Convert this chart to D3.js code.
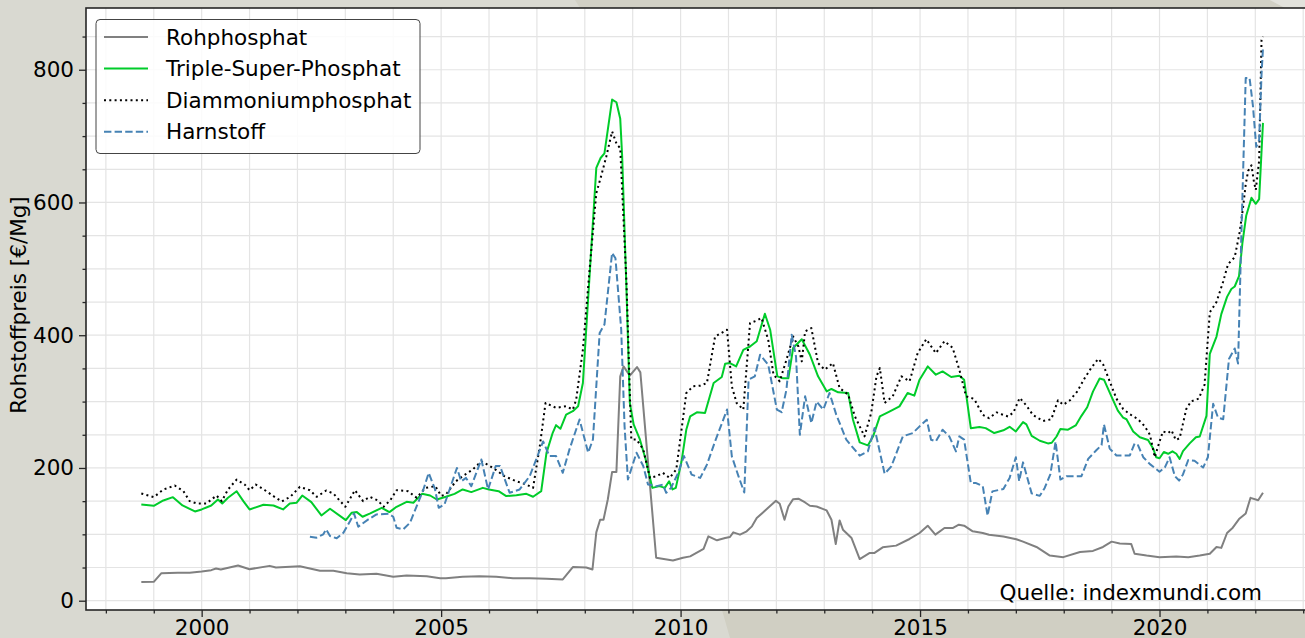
<!DOCTYPE html>
<html lang="de">
<head>
<meta charset="UTF-8">
<title>Rohstoffpreise Dünger</title>
<script src="https://d3js.org/d3.v7.min.js"></script>
<style>
    body { margin: 0; overflow: hidden; background: #d9d9d1; }
    svg { display: block; font-family: "DejaVu Sans", sans-serif; }
    text { fill: #000; }
</style>
</head>
<body>
<svg id="chart" width="1305" height="638"></svg>
<script>
// Werte [Jahr, €/Mg]
const rohphosphat = [[1998.74,28],[1999.0,28.5],[1999.16,41.5],[1999.5,42],[1999.75,42],[2000.0,44],[2000.2,46],[2000.3,48.5],[2000.4,47],[2000.76,53],[2001.0,47.5],[2001.42,52.5],[2001.55,50],[2002.05,52],[2002.47,45],[2002.75,45],[2003.03,41.5],[2003.3,39.5],[2003.65,40.5],[2004.0,36],[2004.28,38],[2004.7,37],[2004.98,34],[2005.1,34],[2005.45,36],[2005.8,37],[2006.15,36],[2006.5,34],[2006.85,34],[2007.2,33],[2007.54,32],[2007.75,50.6],[2008.03,50],[2008.16,47],[2008.24,103],[2008.32,122],[2008.39,122],[2008.48,152.5],[2008.57,194],[2008.66,194],[2008.74,338],[2008.81,353],[2008.94,339],[2009.09,352],[2009.16,344],[2009.49,64.7],[2009.84,60.7],[2010.05,64.7],[2010.2,66.8],[2010.48,78],[2010.58,97],[2010.76,91],[2010.93,94.4],[2011.03,96],[2011.1,103],[2011.24,99.5],[2011.38,104.5],[2011.49,112],[2011.59,124.5],[2011.8,138],[2011.99,150.7],[2012.07,146],[2012.17,122],[2012.25,142],[2012.35,153],[2012.46,153.7],[2012.6,148],[2012.7,143],[2012.84,142],[2012.98,138],[2013.05,136],[2013.15,122],[2013.24,85.4],[2013.32,121],[2013.39,107],[2013.57,94.4],[2013.74,62.8],[2013.95,72],[2014.05,72],[2014.22,80.4],[2014.5,83],[2014.78,93],[2014.99,102],[2015.16,113],[2015.32,99.5],[2015.51,109.5],[2015.68,109.5],[2015.81,114.5],[2015.92,113],[2016.1,104.5],[2016.31,102],[2016.44,99.5],[2016.74,96.7],[2017.01,92.6],[2017.15,89],[2017.43,81],[2017.71,68],[2017.99,65.6],[2018.34,73.3],[2018.61,75],[2018.82,81],[2019.0,89],[2019.17,86.3],[2019.41,85.3],[2019.48,70.8],[2019.73,68],[2020.0,65.6],[2020.35,66.6],[2020.6,65.6],[2020.84,68],[2021.05,70.7],[2021.19,81],[2021.29,79.6],[2021.41,102],[2021.53,110],[2021.66,123],[2021.8,131.5],[2021.9,155],[2022.06,151.3],[2022.16,162.7]];

const tripleSuperPhosphat = [[1998.74,145],[1999.0,143],[1999.2,151],[1999.4,156],[1999.6,143.5],[1999.86,134.5],[2000.0,137.5],[2000.2,143.5],[2000.34,152.5],[2000.43,146.5],[2000.55,155],[2000.73,165],[2000.87,150],[2001.0,137.5],[2001.29,144.5],[2001.5,143.5],[2001.7,137.5],[2001.84,146.5],[2001.98,147.5],[2002.1,158.5],[2002.29,148.5],[2002.5,128.5],[2002.68,138.5],[2003.01,121.5],[2003.13,132.5],[2003.24,133.5],[2003.36,126.5],[2003.52,131.5],[2003.76,140],[2003.92,133.5],[2004.07,141.5],[2004.28,149],[2004.42,147.5],[2004.6,161],[2004.77,158.5],[2004.91,152.5],[2005.1,156.6],[2005.28,161],[2005.45,167.6],[2005.63,163.6],[2005.87,170],[2006.0,167.6],[2006.2,165],[2006.36,157.6],[2006.57,159],[2006.78,161],[2006.92,156.6],[2007.09,165],[2007.2,222.8],[2007.33,253],[2007.4,264.5],[2007.49,259],[2007.61,280.5],[2007.75,285.6],[2007.86,293],[2007.96,328],[2008.24,652],[2008.33,667],[2008.41,674],[2008.57,755],[2008.66,751],[2008.74,726],[2008.78,669.6],[2008.87,469],[2008.94,298],[2009.02,265.5],[2009.15,243],[2009.27,213],[2009.41,170],[2009.56,172.6],[2009.67,170],[2009.76,180],[2009.83,167.6],[2009.9,170],[2010.02,210],[2010.12,258],[2010.2,277.7],[2010.34,283.8],[2010.51,282.8],[2010.69,328],[2010.86,337],[2010.93,357],[2011.03,358],[2011.16,353],[2011.31,378],[2011.45,383],[2011.59,391],[2011.76,432.4],[2011.87,408.3],[2012.02,338],[2012.14,335],[2012.25,335],[2012.35,380.7],[2012.53,394],[2012.7,370.6],[2012.87,338],[2013.05,315.4],[2013.15,319],[2013.29,314],[2013.5,313],[2013.6,272.7],[2013.74,238.6],[2013.91,234],[2014.02,247.6],[2014.16,277.7],[2014.36,285],[2014.57,292.8],[2014.74,313],[2014.88,309],[2014.99,333],[2015.16,353],[2015.33,340.5],[2015.47,345.5],[2015.65,337],[2015.82,339],[2015.92,333],[2016.06,260],[2016.24,261.7],[2016.37,260],[2016.55,252.6],[2016.74,256.7],[2016.87,262],[2017.0,255],[2017.15,269],[2017.22,265.6],[2017.33,248.4],[2017.5,241],[2017.67,237],[2017.75,238],[2017.85,247.4],[2017.93,258.8],[2018.09,257.7],[2018.25,264],[2018.37,278.5],[2018.49,291.5],[2018.61,315],[2018.75,334.7],[2018.84,333],[2019.0,307],[2019.13,286.4],[2019.24,276],[2019.31,273.4],[2019.45,255],[2019.59,246.3],[2019.76,242.2],[2019.87,229],[2019.93,216.2],[2020.0,214.6],[2020.09,224],[2020.18,221.4],[2020.27,225],[2020.35,221.4],[2020.42,213.6],[2020.49,225.5],[2020.63,237],[2020.76,246.3],[2020.84,247.4],[2020.98,278.5],[2021.05,372],[2021.19,398],[2021.29,431.8],[2021.41,457.8],[2021.5,469.7],[2021.57,473.4],[2021.66,489],[2021.73,538.3],[2021.81,580],[2021.92,607],[2022.01,598],[2022.08,605],[2022.16,720]];

const diammoniumphosphat = [[1998.74,161.5],[1999.0,156],[1999.2,167.5],[1999.44,173.5],[1999.62,165],[1999.75,150],[1999.9,146.5],[2000.1,146.5],[2000.31,158.5],[2000.42,150],[2000.55,167.5],[2000.73,182.5],[2000.9,175],[2001.0,166.5],[2001.13,175],[2001.32,166.5],[2001.5,157.5],[2001.67,149.5],[2001.85,156.5],[2002.05,171.5],[2002.26,166.5],[2002.4,156.5],[2002.6,166],[2002.75,161.5],[2003.0,141.5],[2003.2,166.5],[2003.37,150],[2003.51,156.5],[2003.68,151],[2003.8,141.5],[2003.94,151.5],[2004.07,166.5],[2004.31,165],[2004.49,155],[2004.67,170],[2004.88,172.5],[2005.0,158],[2005.1,160],[2005.31,180],[2005.45,187.7],[2005.66,197.7],[2005.84,210],[2006.0,203.7],[2006.15,196.7],[2006.32,187.7],[2006.57,180],[2006.78,175],[2006.92,170],[2007.06,233],[2007.18,298],[2007.4,290.6],[2007.61,293],[2007.75,288],[2007.82,303],[2007.96,378.4],[2008.1,499],[2008.24,614],[2008.34,639.5],[2008.45,669.6],[2008.57,707],[2008.67,687],[2008.74,682],[2008.78,619],[2008.87,479],[2008.97,243],[2009.08,243],[2009.22,228],[2009.36,185],[2009.5,187.7],[2009.63,192.7],[2009.77,185],[2009.91,197.7],[2010.12,313],[2010.26,323],[2010.41,324],[2010.55,328],[2010.72,398],[2010.97,408.3],[2011.07,323],[2011.17,298],[2011.31,288],[2011.45,418.3],[2011.59,422],[2011.69,426],[2011.83,393],[2011.94,340.5],[2012.07,330.5],[2012.21,363],[2012.35,398],[2012.46,383],[2012.53,360.6],[2012.6,405.8],[2012.73,410.8],[2012.87,358],[2013.01,348],[2013.18,358],[2013.32,320.4],[2013.5,310.4],[2013.64,277.7],[2013.84,247.6],[2013.98,282.8],[2014.09,338],[2014.16,350.5],[2014.26,298],[2014.43,308],[2014.61,338],[2014.78,330.5],[2014.95,373],[2015.13,394],[2015.33,373],[2015.51,391],[2015.68,381],[2015.82,348],[2015.96,308],[2016.13,304],[2016.31,280],[2016.44,275],[2016.6,283.7],[2016.7,281],[2016.84,277.5],[2016.95,283.7],[2017.08,305.6],[2017.22,294],[2017.36,279.6],[2017.57,270.8],[2017.74,273.4],[2017.88,302],[2017.99,295.2],[2018.13,302],[2018.28,315],[2018.44,335.7],[2018.58,351.3],[2018.72,364.3],[2018.82,356.5],[2018.96,330.5],[2019.1,304.5],[2019.24,289],[2019.38,281],[2019.55,273.4],[2019.69,263],[2019.8,250],[2019.9,216.2],[2020.0,239.6],[2020.07,255],[2020.18,252.6],[2020.25,256.7],[2020.34,242.2],[2020.42,244.8],[2020.56,289],[2020.66,300.4],[2020.82,304.5],[2020.94,325.3],[2021.05,434.4],[2021.19,450],[2021.33,481],[2021.43,507],[2021.57,517.5],[2021.67,553.9],[2021.74,590],[2021.8,627.6],[2021.85,647.4],[2021.92,656],[2021.97,631.8],[2022.01,618.8],[2022.08,663],[2022.13,845],[2022.16,850]];

const harnstoff = [[2002.26,96.5],[2002.4,95],[2002.54,100],[2002.6,107.5],[2002.68,97.5],[2002.82,94],[2002.96,102.5],[2003.1,120],[2003.18,131.5],[2003.27,111.5],[2003.48,122.5],[2003.65,130],[2003.9,131],[2004.0,126.5],[2004.07,110],[2004.21,107.5],[2004.35,117.5],[2004.49,142.5],[2004.63,167.5],[2004.74,192.5],[2004.87,168.5],[2004.95,140],[2005.07,145],[2005.33,200],[2005.42,180],[2005.52,185],[2005.63,172.6],[2005.84,212.8],[2005.98,167.6],[2006.14,203],[2006.23,203],[2006.43,162.6],[2006.64,167.6],[2006.85,187.7],[2007.13,240],[2007.26,218],[2007.4,218],[2007.54,192.7],[2007.68,228],[2007.89,273],[2008.07,223],[2008.17,243],[2008.31,403.5],[2008.41,416],[2008.57,524],[2008.64,516],[2008.76,408.6],[2008.83,263],[2008.9,182.6],[2009.08,223],[2009.22,203],[2009.32,175],[2009.5,172.6],[2009.63,175],[2009.7,162.6],[2009.8,170],[2009.95,192.7],[2010.07,218],[2010.23,190],[2010.41,185],[2010.55,205],[2010.72,240],[2010.97,288],[2011.07,217.5],[2011.21,187.3],[2011.33,163],[2011.42,333],[2011.55,338],[2011.66,370.6],[2011.83,355.6],[2012.01,288],[2012.11,284],[2012.21,318],[2012.32,400.8],[2012.41,368],[2012.49,250],[2012.6,308],[2012.73,267.7],[2012.84,300],[2012.98,288],[2013.11,313],[2013.25,280.3],[2013.46,242.6],[2013.74,218.5],[2013.91,225],[2014.05,260],[2014.26,191.3],[2014.4,202.4],[2014.64,247.6],[2014.85,252.6],[2014.99,262.7],[2015.14,272.7],[2015.23,242.6],[2015.33,240],[2015.47,257.6],[2015.61,247.6],[2015.75,225],[2015.82,247.6],[2015.92,242.6],[2016.06,177.3],[2016.17,177.3],[2016.31,172.3],[2016.41,128],[2016.51,164.7],[2016.74,168.4],[2016.87,185],[2017.0,216.2],[2017.07,180],[2017.15,208.4],[2017.33,161.7],[2017.5,158],[2017.6,169.5],[2017.72,190.2],[2017.83,239.6],[2017.93,182.5],[2018.06,187.6],[2018.37,187.6],[2018.51,213.6],[2018.68,226.6],[2018.79,234.4],[2018.84,265.6],[2018.96,229.2],[2019.1,218.8],[2019.38,218.8],[2019.48,237],[2019.55,234.4],[2019.66,216.2],[2019.8,205.8],[2020.0,194.4],[2020.11,200.6],[2020.21,216.2],[2020.32,187.6],[2020.41,181],[2020.49,190.2],[2020.6,212],[2020.73,211],[2020.91,200.6],[2021.01,216.2],[2021.12,296.7],[2021.22,276],[2021.33,273.4],[2021.45,364.3],[2021.57,380],[2021.64,357.5],[2021.71,553.9],[2021.8,787.7],[2021.88,787.7],[2021.95,746],[2022.02,683.8],[2022.08,694],[2022.13,793],[2022.16,832]];

const seriesNames = ["Rohphosphat", "Triple-Super-Phosphat", "Diammoniumphosphat", "Harnstoff"];
const yearTicks = [2000, 2005, 2010, 2015, 2020];
const valueTicks = [0, 200, 400, 600, 800];
const quelle = "Quelle: indexmundi.com";

const series = [
    { name: seriesNames[0], data: rohphosphat, color: "#808080", dash: null },
    { name: seriesNames[1], data: tripleSuperPhosphat, color: "#00cc2a", dash: null },
    { name: seriesNames[2], data: diammoniumphosphat, color: "#000000", dash: "2,3.3" },
    { name: seriesNames[3], data: harnstoff, color: "#4682b4", dash: "7.4,3.2" }
];

const svg = d3.select("#chart");
const W = 1305, H = 638;
const plot = { left: 86, top: 8, right: 1319, bottom: 610 };
const fontSize = 21.5;

// Hintergrund (Flächen wie im Screenshot)
svg.append("rect").attr("width", W).attr("height", H).attr("fill", "#d9d9d1");
svg.append("polygon").attr("points", "575,0 1270,0 1285,8 580,8").attr("fill", "#d1d0c5");
svg.append("polygon").attr("points", "1270,0 1305,0 1305,8 1285,8").attr("fill", "#e2e2dc");
svg.append("polygon").attr("points", "722,610 1305,610 1305,638 730,638").attr("fill", "#d0cfc3");

const x = d3.scaleLinear().domain([1997.585, 2023.33]).range([plot.left, plot.right]);
const y = d3.scaleLinear().domain([-14, 893]).range([plot.bottom, plot.top]);

svg.append("rect")
    .attr("x", plot.left).attr("y", plot.top)
    .attr("width", plot.right - plot.left).attr("height", plot.bottom - plot.top)
    .attr("fill", "#fff");

// Gitter: jedes Jahr, alle 50 €/Mg
const minorYears = d3.range(1998, 2024);
const minorValues = d3.range(0, 900, 50);
const grid = svg.append("g").attr("stroke", "#e4e4e4").attr("stroke-width", 1.2);
grid.selectAll(".gx").data(minorYears).join("line")
    .attr("x1", d => x(d)).attr("x2", d => x(d))
    .attr("y1", plot.top).attr("y2", plot.bottom);
grid.selectAll(".gy").data(minorValues).join("line")
    .attr("x1", plot.left).attr("x2", plot.right)
    .attr("y1", d => y(d)).attr("y2", d => y(d));

// Linien
svg.append("clipPath").attr("id", "clip").append("rect")
    .attr("x", plot.left).attr("y", plot.top)
    .attr("width", plot.right - plot.left).attr("height", plot.bottom - plot.top);

const line = d3.line().x(d => x(d[0])).y(d => y(d[1]));
const lines = svg.append("g").attr("clip-path", "url(#clip)");
series.forEach(s => {
    lines.append("path")
        .datum(s.data)
        .attr("fill", "none")
        .attr("stroke", s.color)
        .attr("stroke-width", 2)
        .attr("stroke-linejoin", "round")
        .attr("stroke-dasharray", s.dash)
        .attr("d", line);
});

// Achsen
const axisColor = "#262626";
const xMinor = svg.append("g").attr("transform", `translate(0,${plot.bottom})`)
    .call(d3.axisBottom(x).tickValues(minorYears.filter(d => d % 5 !== 0)).tickSize(3.5).tickFormat(""));
const xMajor = svg.append("g").attr("transform", `translate(0,${plot.bottom})`)
    .call(d3.axisBottom(x).tickValues(yearTicks).tickSize(7).tickPadding(2.5).tickFormat(d3.format("d")));
const yMinor = svg.append("g").attr("transform", `translate(${plot.left},0)`)
    .call(d3.axisLeft(y).tickValues(minorValues.filter(d => d % 200 !== 0)).tickSize(3.5).tickFormat(""));
const yMajor = svg.append("g").attr("transform", `translate(${plot.left},0)`)
    .call(d3.axisLeft(y).tickValues(valueTicks).tickSize(7).tickPadding(5));

[xMinor, xMajor, yMinor, yMajor].forEach(g => {
    g.select(".domain").remove();
    g.selectAll("line").attr("stroke", axisColor).attr("stroke-width", 1.3);
    g.selectAll("text").attr("font-size", fontSize).attr("font-family", "DejaVu Sans").attr("fill", "#000");
});

// Rahmen
svg.append("rect")
    .attr("x", plot.left).attr("y", plot.top)
    .attr("width", plot.right - plot.left).attr("height", plot.bottom - plot.top)
    .attr("fill", "none").attr("stroke", axisColor).attr("stroke-width", 1.6);

// Achsentitel
svg.append("text")
    .attr("transform", `translate(26,305) rotate(-90)`)
    .attr("text-anchor", "middle")
    .attr("font-size", fontSize)
    .text("Rohstoffpreis [€/Mg]");

// Quelle
svg.append("text")
    .attr("x", 1262).attr("y", 600)
    .attr("text-anchor", "end")
    .attr("font-size", fontSize)
    .text(quelle);

// Legende
const legend = svg.append("g");
legend.append("rect")
    .attr("x", 96).attr("y", 19.5).attr("width", 324).attr("height", 134).attr("rx", 4)
    .attr("fill", "#fff").attr("fill-opacity", 0.85)
    .attr("stroke", "#444").attr("stroke-width", 1);
series.forEach((s, i) => {
    const ly = 37 + i * 31.6;
    legend.append("line")
        .attr("x1", 104).attr("x2", 148).attr("y1", ly).attr("y2", ly)
        .attr("stroke", s.color).attr("stroke-width", 2)
        .attr("stroke-dasharray", s.dash);
    legend.append("text")
        .attr("x", 166).attr("y", ly).attr("dy", "0.35em")
        .attr("font-size", fontSize)
        .text(s.name);
});
</script>
</body>
</html>
